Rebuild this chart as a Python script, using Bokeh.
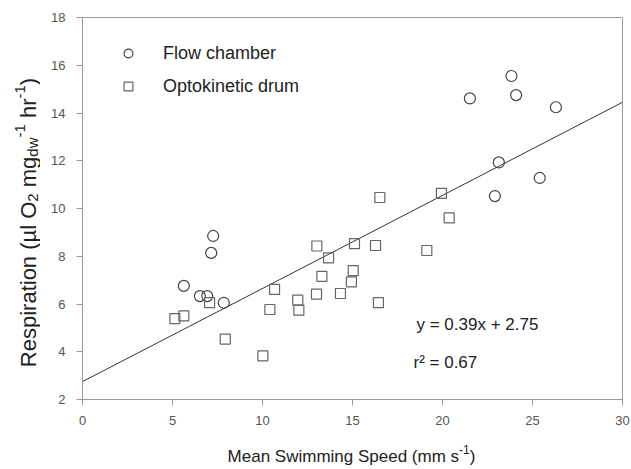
import math
from bokeh.plotting import figure
from bokeh.models import Label, Range1d, FixedTicker
from bokeh.layouts import row, column
from bokeh.embed import file_html
from bokeh.resources import INLINE

# ---- data ----
flow_x = [5.63, 7.26, 7.15, 6.52, 6.93, 7.85, 21.52, 23.83, 24.09, 26.30, 23.13, 25.40, 22.91]
flow_y = [6.76, 8.85, 8.14, 6.33, 6.33, 6.05, 14.61, 15.55, 14.75, 14.24, 11.93, 11.28, 10.52]

drum_x = [5.13, 5.63, 7.06, 7.93, 10.02, 10.41, 10.67, 11.96, 12.02, 13.00, 13.02, 13.30,
          13.67, 14.33, 14.94, 15.04, 15.11, 16.28, 16.44, 16.52, 19.13, 19.94, 20.37]
drum_y = [5.39, 5.50, 6.06, 4.53, 3.83, 5.77, 6.61, 6.16, 5.74, 6.41, 8.43, 7.16,
          7.93, 6.44, 6.93, 7.40, 8.53, 8.45, 6.06, 10.46, 8.24, 10.63, 9.61]

fit_slope = 0.39
fit_intercept = 2.75
fit_r2 = 0.67
fit_x = [0, 30]

x_ticks = [0, 5, 10, 15, 20, 25, 30]
y_ticks = [2, 4, 6, 8, 10, 12, 14, 16, 18]

legend_labels = ["Flow chamber", "Optokinetic drum"]

FONT = "Liberation Sans"
GREY = "#999999"
TXT = "#222222"

TOTAL_H = 465
LEFT_W = 40     # strip holding the y-axis title
MAIN_H = 434
BOTTOM_H = TOTAL_H - MAIN_H   # strip holding the x-axis title
MAIN_W = 631 - LEFT_W

p = figure(width=MAIN_W, height=MAIN_H, x_range=Range1d(0, 30), y_range=Range1d(2, 18),
           output_backend="svg", toolbar_location=None,
           min_border_left=82 - LEFT_W, min_border_right=9, min_border_top=17,
           min_border_bottom=MAIN_H - 399)

p.grid.visible = False
p.outline_line_color = GREY
p.outline_line_width = 1
p.background_fill_color = "white"
p.border_fill_color = "white"

for ax in (p.xaxis[0], p.yaxis[0]):
    ax.axis_line_color = GREY
    ax.major_tick_line_color = GREY
    ax.minor_tick_line_color = None
    ax.major_tick_out = 6
    ax.major_tick_in = 0
    ax.major_label_text_font = FONT
    ax.major_label_text_font_size = "13px"
    ax.major_label_text_color = "#555555"

p.xaxis[0].ticker = FixedTicker(ticks=x_ticks)
p.yaxis[0].ticker = FixedTicker(ticks=y_ticks)
p.xaxis[0].major_label_standoff = 10
p.yaxis[0].major_label_standoff = 11

# regression line
fit_y = [fit_slope * v + fit_intercept for v in fit_x]
p.line(fit_x, fit_y, line_color="#333333", line_width=1)

# points
p.scatter(flow_x, flow_y, marker="circle", size=11, fill_color=None,
          line_color="#444444", line_width=1.2, legend_label=legend_labels[0])
p.scatter(drum_x, drum_y, marker="square", size=10, fill_color=None,
          line_color="#666666", line_width=1.2, legend_label=legend_labels[1])

lg = p.legend[0]
lg.location = "top_left"
lg.margin = 25
lg.padding = 0
lg.border_line_color = None
lg.background_fill_alpha = 0
lg.glyph_width = 42
lg.glyph_height = 22
lg.label_height = 22
lg.spacing = 11
lg.label_standoff = 14
lg.label_text_font = FONT
lg.label_text_font_size = "18px"
lg.label_text_color = TXT

# equation
p.add_layout(Label(x=334, y=75, x_units="screen", y_units="screen",
                   text=f"y = {fit_slope}x + {fit_intercept}", text_baseline="alphabetic",
                   text_font=FONT, text_font_size="17px", text_color=TXT))
p.add_layout(Label(x=331, y=37, x_units="screen", y_units="screen",
                   text=f"r\u00b2 = {fit_r2}", text_baseline="alphabetic",
                   text_font=FONT, text_font_size="17px", text_color=TXT))

# ---- axis titles with sub/superscripts ----
W = {" ": 278, "(": 333, ")": 333, "-": 333, ".": 278, "=": 584, "+": 584,
     "0": 556, "1": 556, "2": 556, "3": 556, "4": 556, "5": 556, "6": 556, "7": 556, "8": 556, "9": 556,
     "M": 833, "S": 667, "R": 722, "O": 778, "F": 611,
     "a": 556, "b": 556, "c": 500, "d": 556, "e": 556, "g": 556, "h": 556, "i": 222,
     "l": 222, "m": 833, "n": 556, "o": 556, "p": 556, "r": 333, "s": 500, "t": 278,
     "w": 722, "x": 500, "y": 500, "k": 500, "\u00b5": 576}


def tw(s, size):
    return sum(W.get(c, 556) for c in s) * size / 1000.0


def strip_fig(w, h):
    f = figure(width=w, height=h, x_range=Range1d(0, 1), y_range=Range1d(0, 1),
               x_axis_type=None, y_axis_type=None, output_backend="svg", toolbar_location=None,
               min_border=0, min_border_left=0, min_border_right=0, min_border_top=0,
               min_border_bottom=0)
    f.outline_line_color = None
    f.grid.visible = False
    f.background_fill_color = "white"
    f.border_fill_color = "white"
    return f


# y title: rotated, reads bottom to top
ystrip = strip_fig(LEFT_W, TOTAL_H)
ylabel_parts = [("Respiration (\u00b5l O", "n"), ("2", "sub"), (" mg", "n"), ("dw", "sub"),
                ("-1", "sup"), (" hr", "n"), ("-1", "sup"), (")", "n")]
FY, FYS = 22, 15
total = sum(tw(t, FY if k == "n" else FYS) for t, k in ylabel_parts)
pos = (TOTAL_H - 222) - total / 2.0
base_x = 28
for t, k in ylabel_parts:
    size = FY if k == "n" else FYS
    dx = {"n": 0, "sub": 4, "sup": -9}[k]
    lead = len(t) - len(t.lstrip(" "))
    start = pos + tw(" " * lead, size)
    ystrip.add_layout(Label(x=base_x + dx, y=start, x_units="screen", y_units="screen",
                            text=t.strip(" "), angle=math.pi / 2, text_align="left",
                            text_baseline="alphabetic", text_font=FONT,
                            text_font_size=f"{size}px", text_color=TXT))
    pos += tw(t, size)

# x title
xstrip = strip_fig(MAIN_W, BOTTOM_H)
xlabel_parts = [("Mean Swimming Speed (mm s", "n"), ("-1", "sup"), (")", "n")]
FX, FXS = 17, 12
total = sum(tw(t, FX if k == "n" else FXS) for t, k in xlabel_parts)
pos = (309 - LEFT_W) - total / 2.0
base_y = BOTTOM_H - (456 - MAIN_H)
for t, k in xlabel_parts:
    size = FX if k == "n" else FXS
    dy = {"n": 0, "sup": 7}[k]
    xstrip.add_layout(Label(x=pos, y=base_y + dy, x_units="screen", y_units="screen",
                            text=t, text_align="left", text_baseline="alphabetic",
                            text_font=FONT, text_font_size=f"{size}px", text_color=TXT))
    pos += tw(t, size)

layout = row(ystrip, column(p, xstrip, spacing=0), spacing=0)

open("out.html", "w").write(file_html(layout, INLINE))
